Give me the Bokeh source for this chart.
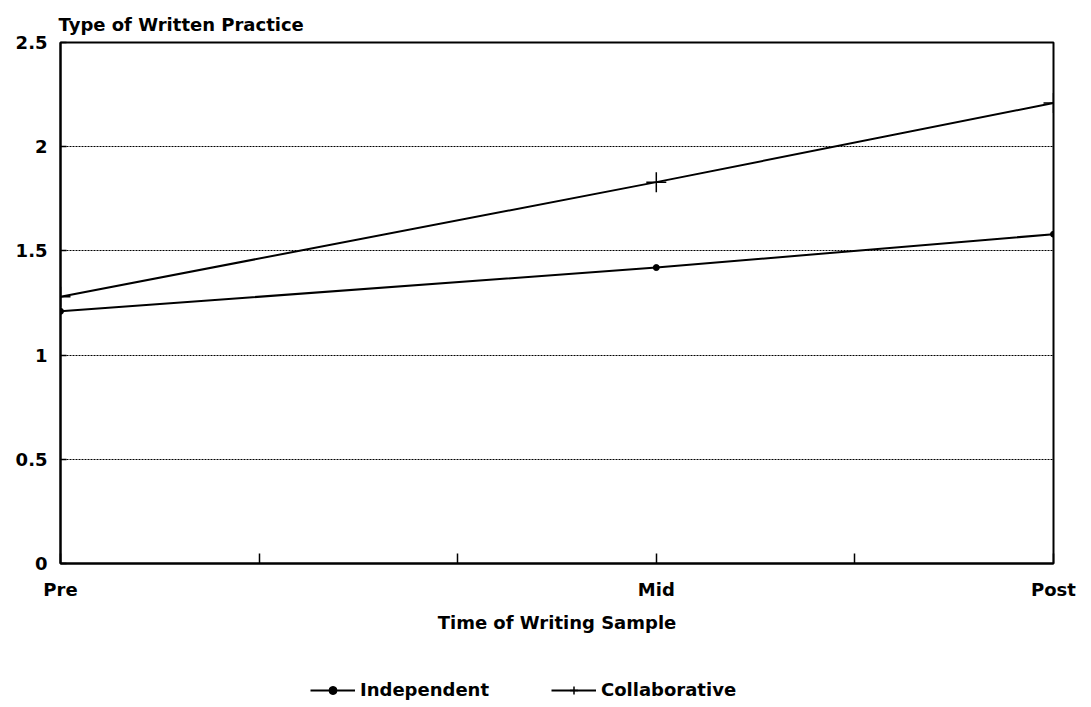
from bokeh.plotting import figure
from bokeh.layouts import column
from bokeh.models import FixedTicker, Legend, LegendItem, Range1d
from bokeh.embed import file_html
from bokeh.resources import INLINE

times = [0, 3, 5]
time_labels = {0: "Pre", 1: "", 2: "", 3: "Mid", 4: "", 5: "Post"}
independent = [1.21, 1.42, 1.58]
collaborative = [1.28, 1.83, 2.21]
y_ticks = [0, 0.5, 1, 1.5, 2, 2.5]
y_tick_labels = {0: "0", 0.5: "0.5", 1: "1", 1.5: "1.5", 2: "2", 2.5: "2.5"}

FONT = "DejaVu Sans"
FS = "18px"

p = figure(width=1083, height=640, output_backend="svg", toolbar_location=None,
           x_range=Range1d(0, 5), y_range=Range1d(0, 2.5),
           min_border_left=60, min_border_right=30, min_border_top=42, min_border_bottom=77,
           title="Type of Written Practice")
p.title.text_font = FONT
p.title.text_font_size = FS
p.title.text_font_style = "bold"
p.title.text_color = "black"
p.title.align = "left"
p.title.offset = -2
p.title.standoff = 15

p.outline_line_color = "black"
p.outline_line_width = 2
p.background_fill_color = "white"
p.border_fill_color = "white"

p.xgrid.grid_line_color = None
p.ygrid.grid_line_color = "black"
p.ygrid.grid_line_dash = "2 1"
p.ygrid.grid_line_width = 1.2
p.ygrid.ticker = FixedTicker(ticks=y_ticks)

p.xaxis.ticker = FixedTicker(ticks=list(time_labels.keys()))
p.xaxis.major_label_overrides = time_labels
p.xaxis.major_tick_in = 10
p.xaxis.major_tick_out = 0
p.xaxis.minor_tick_line_color = None
p.xaxis.axis_line_width = 2
p.xaxis.major_tick_line_width = 1.5
p.xaxis.major_label_standoff = 15
p.xaxis.axis_label = "Time of Writing Sample"
p.xaxis.axis_label_standoff = 9

p.yaxis.ticker = FixedTicker(ticks=y_ticks)
p.yaxis.major_label_overrides = y_tick_labels
p.yaxis.major_tick_in = 6
p.yaxis.major_tick_out = 0
p.yaxis.major_tick_line_width = 1.5
p.yaxis.minor_tick_line_color = None
p.yaxis.axis_line_width = 2
p.yaxis.major_label_standoff = 13

for ax in (p.xaxis, p.yaxis):
    ax.major_label_text_font = FONT
    ax.major_label_text_font_size = FS
    ax.major_label_text_font_style = "bold"
    ax.major_label_text_color = "black"
    ax.axis_label_text_font = FONT
    ax.axis_label_text_font_size = FS
    ax.axis_label_text_font_style = "bold"
    ax.axis_label_text_color = "black"
    ax.axis_line_color = "black"
    ax.major_tick_line_color = "black"

ind_style = dict(line_color="black", line_width=2)
ind_mark = dict(marker="circle", size=6, fill_color="black", line_color="black")
col_style = dict(line_color="black", line_width=2)
col_mark = dict(marker="cross", size=20, line_color="black", line_width=1.5)

p.line(times, independent, **ind_style)
p.scatter(times, independent, **ind_mark)
p.line(times, collaborative, **col_style)
p.scatter(times, collaborative, **col_mark)

# legend strip below the chart (its renderers lie outside its visible ranges)
lg = figure(width=1083, height=67, output_backend="svg", toolbar_location=None,
            x_range=Range1d(100, 101), y_range=Range1d(100, 101),
            min_border_left=0, min_border_right=0, min_border_top=0, min_border_bottom=0)
lg.axis.visible = False
lg.grid.visible = False
lg.outline_line_color = None
lg.background_fill_color = "white"
lg.border_fill_color = "white"
r1 = lg.line(times, independent, **ind_style)
r2 = lg.scatter(times, independent, **ind_mark)
r3 = lg.line(times, collaborative, **col_style)
r4 = lg.scatter(times, collaborative, **col_mark)

legend = Legend(items=[LegendItem(label="Independent", renderers=[r1, r2]),
                       LegendItem(label="Collaborative", renderers=[r3, r4])],
                orientation="horizontal", location=(250, 7),
                label_text_font=FONT, label_text_font_size=FS, label_text_font_style="bold",
                label_text_color="black",
                border_line_color=None, background_fill_alpha=0,
                glyph_width=45, spacing=62, margin=0, padding=0)
lg.add_layout(legend, "center")

layout = column(p, lg, spacing=0)
open("out.html", "w").write(file_html(layout, INLINE))
